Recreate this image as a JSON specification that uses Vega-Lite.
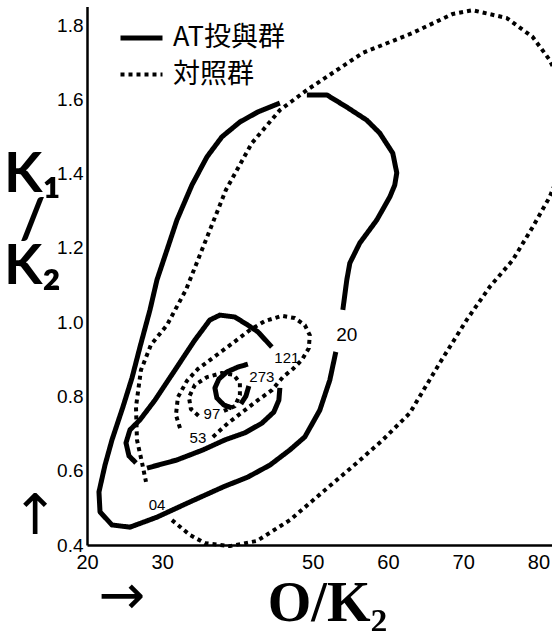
{
  "$schema": "https://vega.github.io/schema/vega-lite/v6.json",
  "autosize": {"type": "none"},
  "padding": {"left": 87, "top": 6.5, "right": 0, "bottom": 86},
  "width": 465,
  "height": 538.5,
  "background": "white",
  "config": {"view": {"stroke": null}, "font": "Liberation Sans"},
  "datasets": {
    "lines": [
      {"g":"AT投與群","s":"S1a","i":1,"x":49.22,"y":1.612},
      {"g":"AT投與群","s":"S1a","i":2,"x":51.87,"y":1.612},
      {"g":"AT投與群","s":"S1a","i":3,"x":54.53,"y":1.579},
      {"g":"AT投與群","s":"S1a","i":4,"x":57.18,"y":1.544},
      {"g":"AT投與群","s":"S1a","i":5,"x":58.91,"y":1.509},
      {"g":"AT投與群","s":"S1a","i":6,"x":60.64,"y":1.455},
      {"g":"AT投與群","s":"S1a","i":7,"x":61.17,"y":1.402},
      {"g":"AT投與群","s":"S1a","i":8,"x":60.90,"y":1.369},
      {"g":"AT投與群","s":"S1a","i":9,"x":60.24,"y":1.337},
      {"g":"AT投與群","s":"S1a","i":10,"x":58.51,"y":1.275},
      {"g":"AT投與群","s":"S1a","i":11,"x":56.25,"y":1.213},
      {"g":"AT投與群","s":"S1a","i":12,"x":54.93,"y":1.159},
      {"g":"AT投與群","s":"S1a","i":13,"x":54.53,"y":1.114},
      {"g":"AT投與群","s":"S1a","i":14,"x":54.00,"y":1.033},
      {"g":"AT投與群","s":"S1b","i":1,"x":53.07,"y":0.920},
      {"g":"AT投與群","s":"S1b","i":2,"x":52.27,"y":0.844},
      {"g":"AT投與群","s":"S1b","i":3,"x":50.94,"y":0.763},
      {"g":"AT投與群","s":"S1b","i":4,"x":48.95,"y":0.691},
      {"g":"AT投與群","s":"S1b","i":5,"x":46.96,"y":0.656},
      {"g":"AT投與群","s":"S1b","i":6,"x":44.30,"y":0.615},
      {"g":"AT投與群","s":"S1b","i":7,"x":41.38,"y":0.583},
      {"g":"AT投與群","s":"S1b","i":8,"x":38.06,"y":0.556},
      {"g":"AT投與群","s":"S1b","i":9,"x":33.68,"y":0.516},
      {"g":"AT投與群","s":"S1b","i":10,"x":29.30,"y":0.475},
      {"g":"AT投與群","s":"S1b","i":11,"x":25.71,"y":0.448},
      {"g":"AT投與群","s":"S1b","i":12,"x":23.32,"y":0.454},
      {"g":"AT投與群","s":"S1b","i":13,"x":21.73,"y":0.489},
      {"g":"AT投與群","s":"S1b","i":14,"x":21.59,"y":0.543},
      {"g":"AT投與群","s":"S1b","i":15,"x":22.39,"y":0.615},
      {"g":"AT投與群","s":"S1b","i":16,"x":23.32,"y":0.683},
      {"g":"AT投與群","s":"S1b","i":17,"x":24.78,"y":0.772},
      {"g":"AT投與群","s":"S1b","i":18,"x":25.98,"y":0.850},
      {"g":"AT投與群","s":"S1b","i":19,"x":27.04,"y":0.933},
      {"g":"AT投與群","s":"S1b","i":20,"x":28.37,"y":1.033},
      {"g":"AT投與群","s":"S1b","i":21,"x":29.30,"y":1.114},
      {"g":"AT投與群","s":"S1b","i":22,"x":30.62,"y":1.194},
      {"g":"AT投與群","s":"S1b","i":23,"x":31.95,"y":1.275},
      {"g":"AT投與群","s":"S1b","i":24,"x":33.94,"y":1.369},
      {"g":"AT投與群","s":"S1b","i":25,"x":35.94,"y":1.445},
      {"g":"AT投與群","s":"S1b","i":26,"x":37.93,"y":1.499},
      {"g":"AT投與群","s":"S1b","i":27,"x":40.32,"y":1.539},
      {"g":"AT投與群","s":"S1b","i":28,"x":42.71,"y":1.566},
      {"g":"AT投與群","s":"S1b","i":29,"x":45.63,"y":1.590},
      {"g":"AT投與群","s":"S2a","i":1,"x":44.57,"y":0.933},
      {"g":"AT投與群","s":"S2a","i":2,"x":42.71,"y":0.974},
      {"g":"AT投與群","s":"S2a","i":3,"x":41.38,"y":0.992},
      {"g":"AT投與群","s":"S2a","i":4,"x":39.65,"y":1.014},
      {"g":"AT投與群","s":"S2a","i":5,"x":37.66,"y":1.019},
      {"g":"AT投與群","s":"S2a","i":6,"x":36.33,"y":1.006},
      {"g":"AT投與群","s":"S2a","i":7,"x":34.34,"y":0.952},
      {"g":"AT投與群","s":"S2a","i":8,"x":31.69,"y":0.871},
      {"g":"AT投與群","s":"S2a","i":9,"x":29.03,"y":0.790},
      {"g":"AT投與群","s":"S2a","i":10,"x":27.04,"y":0.737},
      {"g":"AT投與群","s":"S2a","i":11,"x":25.71,"y":0.710},
      {"g":"AT投與群","s":"S2a","i":12,"x":25.18,"y":0.675},
      {"g":"AT投與群","s":"S2a","i":13,"x":25.58,"y":0.640},
      {"g":"AT投與群","s":"S2a","i":14,"x":26.51,"y":0.621},
      {"g":"AT投與群","s":"S2b","i":1,"x":27.97,"y":0.607},
      {"g":"AT投與群","s":"S2b","i":2,"x":31.95,"y":0.629},
      {"g":"AT投與群","s":"S2b","i":3,"x":35.41,"y":0.656},
      {"g":"AT投與群","s":"S2b","i":4,"x":38.33,"y":0.683},
      {"g":"AT投與群","s":"S2b","i":5,"x":40.98,"y":0.702},
      {"g":"AT投與群","s":"S2b","i":6,"x":43.24,"y":0.728},
      {"g":"AT投與群","s":"S2b","i":7,"x":44.83,"y":0.758},
      {"g":"AT投與群","s":"S2b","i":8,"x":45.50,"y":0.790},
      {"g":"AT投與群","s":"S2b","i":9,"x":45.63,"y":0.823},
      {"g":"AT投與群","s":"S3a","i":1,"x":41.38,"y":0.887},
      {"g":"AT投與群","s":"S3a","i":2,"x":40.05,"y":0.879},
      {"g":"AT投與群","s":"S3a","i":3,"x":38.59,"y":0.866},
      {"g":"AT投與群","s":"S3a","i":4,"x":37.53,"y":0.847},
      {"g":"AT投與群","s":"S3a","i":5,"x":37.00,"y":0.823},
      {"g":"AT投與群","s":"S3a","i":6,"x":37.26,"y":0.796},
      {"g":"AT投與群","s":"S3a","i":7,"x":38.19,"y":0.777},
      {"g":"AT投與群","s":"S3a","i":8,"x":39.26,"y":0.769},
      {"g":"AT投與群","s":"S3b","i":1,"x":40.45,"y":0.780},
      {"g":"AT投與群","s":"S3b","i":2,"x":41.12,"y":0.801},
      {"g":"AT投與群","s":"S3b","i":3,"x":41.51,"y":0.828},
      {"g":"対照群","s":"D1","i":1,"x":31.29,"y":0.467},
      {"g":"対照群","s":"D1","i":2,"x":33.68,"y":0.427},
      {"g":"対照群","s":"D1","i":3,"x":35.67,"y":0.405},
      {"g":"対照群","s":"D1","i":4,"x":38.99,"y":0.397},
      {"g":"対照群","s":"D1","i":5,"x":42.58,"y":0.411},
      {"g":"対照群","s":"D1","i":6,"x":46.96,"y":0.467},
      {"g":"対照群","s":"D1","i":7,"x":51.34,"y":0.543},
      {"g":"対照群","s":"D1","i":8,"x":55.86,"y":0.621},
      {"g":"対照群","s":"D1","i":9,"x":59.31,"y":0.683},
      {"g":"対照群","s":"D1","i":10,"x":62.89,"y":0.755},
      {"g":"対照群","s":"D1","i":11,"x":66.88,"y":0.890},
      {"g":"対照群","s":"D1","i":12,"x":70.46,"y":1.006},
      {"g":"対照群","s":"D1","i":13,"x":73.52,"y":1.095},
      {"g":"対照群","s":"D1","i":14,"x":76.57,"y":1.167},
      {"g":"対照群","s":"D1","i":15,"x":79.23,"y":1.256},
      {"g":"対照群","s":"D1","i":16,"x":81.49,"y":1.337},
      {"g":"対照群","s":"D1","i":17,"x":83.48,"y":1.437},
      {"g":"対照群","s":"D1","i":18,"x":84.14,"y":1.544},
      {"g":"対照群","s":"D1","i":19,"x":83.08,"y":1.639},
      {"g":"対照群","s":"D1","i":20,"x":81.49,"y":1.706},
      {"g":"対照群","s":"D1","i":21,"x":79.23,"y":1.768},
      {"g":"対照群","s":"D1","i":22,"x":75.78,"y":1.819},
      {"g":"対照群","s":"D1","i":23,"x":71.26,"y":1.840},
      {"g":"対照群","s":"D1","i":24,"x":68.61,"y":1.830},
      {"g":"対照群","s":"D1","i":25,"x":63.29,"y":1.779},
      {"g":"対照群","s":"D1","i":26,"x":56.65,"y":1.725},
      {"g":"対照群","s":"D1","i":27,"x":49.22,"y":1.625},
      {"g":"対照群","s":"D1","i":28,"x":45.63,"y":1.571},
      {"g":"対照群","s":"D1","i":29,"x":41.91,"y":1.482},
      {"g":"対照群","s":"D1","i":30,"x":38.46,"y":1.356},
      {"g":"対照群","s":"D1","i":31,"x":35.54,"y":1.208},
      {"g":"対照群","s":"D1","i":32,"x":33.15,"y":1.087},
      {"g":"対照群","s":"D1","i":33,"x":30.62,"y":0.992},
      {"g":"対照群","s":"D1","i":34,"x":28.50,"y":0.939},
      {"g":"対照群","s":"D1","i":35,"x":27.17,"y":0.871},
      {"g":"対照群","s":"D1","i":36,"x":26.51,"y":0.772},
      {"g":"対照群","s":"D1","i":37,"x":26.64,"y":0.683},
      {"g":"対照群","s":"D1","i":38,"x":27.30,"y":0.623},
      {"g":"対照群","s":"D1","i":39,"x":27.84,"y":0.570},
      {"g":"対照群","s":"D2","i":1,"x":36.73,"y":0.691},
      {"g":"対照群","s":"D2","i":2,"x":38.73,"y":0.728},
      {"g":"対照群","s":"D2","i":3,"x":40.98,"y":0.763},
      {"g":"対照群","s":"D2","i":4,"x":42.71,"y":0.790},
      {"g":"対照群","s":"D2","i":5,"x":44.57,"y":0.817},
      {"g":"対照群","s":"D2","i":6,"x":46.03,"y":0.852},
      {"g":"対照群","s":"D2","i":7,"x":47.36,"y":0.874},
      {"g":"対照群","s":"D2","i":8,"x":48.55,"y":0.898},
      {"g":"対照群","s":"D2","i":9,"x":49.48,"y":0.930},
      {"g":"対照群","s":"D2","i":10,"x":49.61,"y":0.965},
      {"g":"対照群","s":"D2","i":11,"x":48.95,"y":0.992},
      {"g":"対照群","s":"D2","i":12,"x":47.62,"y":1.011},
      {"g":"対照群","s":"D2","i":13,"x":45.90,"y":1.017},
      {"g":"対照群","s":"D2","i":14,"x":43.64,"y":1.003},
      {"g":"対照群","s":"D2","i":15,"x":41.65,"y":0.979},
      {"g":"対照群","s":"D2","i":16,"x":39.39,"y":0.944},
      {"g":"対照群","s":"D2","i":17,"x":36.87,"y":0.906},
      {"g":"対照群","s":"D2","i":18,"x":34.74,"y":0.874},
      {"g":"対照群","s":"D2","i":19,"x":33.28,"y":0.842},
      {"g":"対照群","s":"D2","i":20,"x":32.08,"y":0.798},
      {"g":"対照群","s":"D2","i":21,"x":31.82,"y":0.750},
      {"g":"対照群","s":"D2","i":22,"x":32.48,"y":0.707},
      {"g":"対照群","s":"D3","i":1,"x":38.19,"y":0.761},
      {"g":"対照群","s":"D3","i":2,"x":39.65,"y":0.774},
      {"g":"対照群","s":"D3","i":3,"x":40.32,"y":0.804},
      {"g":"対照群","s":"D3","i":4,"x":40.32,"y":0.836},
      {"g":"対照群","s":"D3","i":5,"x":39.52,"y":0.858},
      {"g":"対照群","s":"D3","i":6,"x":37.93,"y":0.863},
      {"g":"対照群","s":"D3","i":7,"x":35.94,"y":0.852},
      {"g":"対照群","s":"D3","i":8,"x":34.34,"y":0.831},
      {"g":"対照群","s":"D3","i":9,"x":33.55,"y":0.798},
      {"g":"対照群","s":"D3","i":10,"x":33.81,"y":0.766},
      {"g":"対照群","s":"D3","i":11,"x":34.87,"y":0.747}
    ],
    "labels": [
      {"t":"20","x":54.53,"y":0.965},
      {"t":"04","x":29.30,"y":0.508},
      {"t":"121","x":46.56,"y":0.903},
      {"t":"273","x":43.24,"y":0.852},
      {"t":"97","x":36.60,"y":0.753},
      {"t":"53","x":34.74,"y":0.688}
    ],
    "arrows": [
      {"t":"↑","x":13.1,"y":0.475},
      {"t":"→","x":24.65,"y":0.26}
    ]
  },
  "layer": [
    {
      "data": {"name": "lines"},
      "mark": {"type": "line", "color": "#000", "clip": false, "strokeCap": "butt", "strokeJoin": "round"},
      "encoding": {
        "x": {"field": "x", "type": "quantitative",
          "scale": {"domain": [20, 81.8], "zero": false, "nice": false},
          "axis": {"values": [20, 30, 50, 60, 70, 80], "ticks": false, "grid": false,
            "domainColor": "#000", "domainWidth": 2.5, "labelColor": "#000",
            "labelFont": "Liberation Sans",
            "labelFontSize": 20, "labelPadding": 7, "labelFlush": false, "labelOverlap": false,
            "title": "O/K₂", "titleFont": "Liberation Serif", "titleFontSize": 56, "titleFontWeight": "bold",
            "titleColor": "#000", "titleX": 240, "titleY": 75, "titleAlign": "center", "titleBaseline": "alphabetic"}},
        "y": {"field": "y", "type": "quantitative",
          "scale": {"domain": [0.4, 1.85], "zero": false, "nice": false},
          "axis": {"values": [0.4, 0.6, 0.8, 1.0, 1.2, 1.4, 1.6, 1.8], "format": ".1f", "ticks": false, "grid": false,
            "domainColor": "#000", "domainWidth": 2.5, "labelColor": "#000",
            "labelFont": "Liberation Sans",
            "labelFontSize": 19, "labelPadding": 4, "labelFlush": false, "labelOverlap": false,
            "title": ["K₁", "/", "K₂"], "titleFont": "Lato", "titleFontSize": 56, "titleFontWeight": "bold",
            "titleColor": "#000", "titleAngle": 0, "titleX": -55, "titleY": 168, "titleAlign": "center",
            "titleBaseline": "middle", "titleLineHeight": 46}},
        "detail": {"field": "s"},
        "order": {"field": "i", "type": "quantitative"},
        "strokeDash": {"field": "g", "type": "nominal",
          "scale": {"domain": ["AT投與群", "対照群"], "range": [[1, 0], [4, 4]]},
          "legend": {"title": null, "orient": "none", "legendX": 31, "legendY": 8, "symbolType": "stroke",
            "symbolSize": 1764, "symbolStrokeColor": "#000", "labelFont": "Noto Sans CJK JP", "labelFontSize": 27,
            "labelColor": "#000", "labelOffset": 8, "rowPadding": 0, "padding": 0}},
        "strokeWidth": {"field": "g", "type": "nominal",
          "scale": {"domain": ["AT投與群", "対照群"], "range": [5, 4]},
          "legend": {"title": null, "orient": "none", "legendX": 31, "legendY": 8, "symbolType": "stroke",
            "symbolSize": 1764, "symbolStrokeColor": "#000", "labelFont": "Noto Sans CJK JP", "labelFontSize": 27,
            "labelColor": "#000", "labelOffset": 8, "rowPadding": 0, "padding": 0}}
      }
    },
    {
      "data": {"name": "labels"},
      "mark": {"type": "text", "color": "#000", "font": "Liberation Sans", "align": "center", "baseline": "middle"},
      "encoding": {
        "x": {"field": "x", "type": "quantitative"},
        "y": {"field": "y", "type": "quantitative"},
        "text": {"field": "t"},
        "size": {"condition": {"test": "datum.t == '20'", "value": 19}, "value": 15}
      }
    },
    {
      "data": {"name": "arrows"},
      "mark": {"type": "text", "color": "#000", "font": "DejaVu Sans", "fontSize": 56, "align": "center", "baseline": "middle"},
      "encoding": {
        "x": {"field": "x", "type": "quantitative"},
        "y": {"field": "y", "type": "quantitative"},
        "text": {"field": "t"}
      }
    }
  ]
}
